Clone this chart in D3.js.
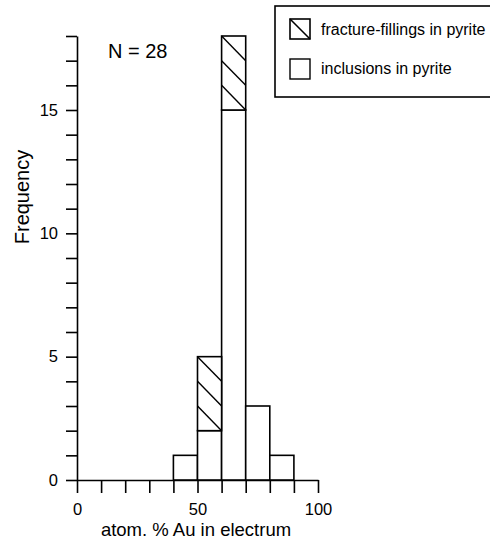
<!DOCTYPE html>
<html>
<head>
<meta charset="utf-8">
<script src="https://d3js.org/d3.v7.min.js"></script>
<style>
  body { margin: 0; background: #fff; }
  text { font-family: "Liberation Sans", Arial, sans-serif; fill: #000; }
</style>
</head>
<body>
<div class="display-svg"></div>
<script>
// bins of atom. % Au in electrum, counts per group
var binStart = [40, 50, 60, 70, 80];
var binEnd = [50, 60, 70, 80, 90];
var inclusions = [1, 2, 15, 3, 1];
var fractures = [0, 3, 3, 0, 0];
var yTickLabels = [0, 5, 10, 15];
var xTickLabels = [0, 50, 100];

var width = 490,
    height = 541;

var svg = d3.select('.display-svg')
  .append('svg')
  .attr('width', width)
  .attr('height', height);

var xScale = d3.scaleLinear().domain([0, 100]).range([77, 318]);
var yScale = d3.scaleLinear().domain([0, 18]).range([480, 36]);

// y axis, a tick for every count, labels every 5
var yAxis = d3.axisLeft(yScale)
  .tickValues(d3.range(0, 19))
  .tickSize(11)
  .tickSizeOuter(0)
  .tickPadding(8)
  .tickFormat(d => yTickLabels.indexOf(d) >= 0 ? d : '');

svg.append('g')
  .attr('transform', 'translate(' + xScale(0) + ',0)')
  .call(yAxis);

var xAxis = d3.axisBottom(xScale)
  .tickValues(d3.range(0, 101, 10))
  .tickSize(13)
  .tickSizeOuter(0)
  .tickPadding(10)
  .tickFormat(d => xTickLabels.indexOf(d) >= 0 ? d : '');

svg.append('g')
  .attr('transform', 'translate(0,' + yScale(0) + ')')
  .call(xAxis);

svg.selectAll('.domain, .tick line')
  .attr('stroke', '#000')
  .attr('stroke-width', 1.6);
svg.selectAll('.tick text')
  .style('font-size', '16.5px');

// inclusions (plain boxes)
svg.selectAll('rect.incl')
  .data(inclusions)
  .enter()
  .append('rect')
  .attr('class', 'incl')
  .attr('x', (d, i) => xScale(binStart[i]))
  .attr('y', d => yScale(d))
  .attr('width', (d, i) => xScale(binEnd[i]) - xScale(binStart[i]))
  .attr('height', d => yScale(0) - yScale(d))
  .attr('fill', '#fff')
  .attr('stroke', '#000')
  .attr('stroke-width', 1.6);

// fracture-fillings stacked on top, hatched
binStart.forEach((s, i) => {
  if (fractures[i] === 0) return;
  var base = inclusions[i];
  var top = base + fractures[i];
  var x0 = xScale(s), x1 = xScale(binEnd[i]);
  svg.append('rect')
    .attr('x', x0)
    .attr('y', yScale(top))
    .attr('width', x1 - x0)
    .attr('height', yScale(base) - yScale(top))
    .attr('fill', '#fff')
    .attr('stroke', '#000')
    .attr('stroke-width', 1.6);
  d3.range(base, top).forEach(k => {
    svg.append('line')
      .attr('x1', x0)
      .attr('y1', yScale(k + 1))
      .attr('x2', x1)
      .attr('y2', yScale(k))
      .attr('stroke', '#000')
      .attr('stroke-width', 1.4);
  });
});

svg.append('text')
  .attr('x', 108)
  .attr('y', 58)
  .style('font-size', '20px')
  .text('N = 28');

svg.append('text')
  .attr('transform', 'rotate(-90)')
  .attr('x', -197)
  .attr('y', 29)
  .attr('text-anchor', 'middle')
  .style('font-size', '20px')
  .text('Frequency');

svg.append('text')
  .attr('x', 196)
  .attr('y', 536)
  .attr('text-anchor', 'middle')
  .style('font-size', '18.5px')
  .text('atom. % Au in electrum');

// legend
var legend = svg.append('g');
legend.append('rect')
  .attr('x', 275)
  .attr('y', 6)
  .attr('width', 230)
  .attr('height', 91)
  .attr('fill', '#fff')
  .attr('stroke', '#000')
  .attr('stroke-width', 1.6);

legend.append('rect')
  .attr('x', 290).attr('y', 19).attr('width', 20).attr('height', 20)
  .attr('fill', '#fff').attr('stroke', '#000').attr('stroke-width', 1.6);
legend.append('line')
  .attr('x1', 290).attr('y1', 19).attr('x2', 310).attr('y2', 39)
  .attr('stroke', '#000').attr('stroke-width', 1.6);
legend.append('rect')
  .attr('x', 290).attr('y', 59).attr('width', 20).attr('height', 20)
  .attr('fill', '#fff').attr('stroke', '#000').attr('stroke-width', 1.4);

legend.append('text')
  .attr('x', 321).attr('y', 35)
  .style('font-size', '16px')
  .text('fracture-fillings in pyrite');
legend.append('text')
  .attr('x', 321).attr('y', 74)
  .style('font-size', '16px')
  .text('inclusions in pyrite');
</script>
</body>
</html>
